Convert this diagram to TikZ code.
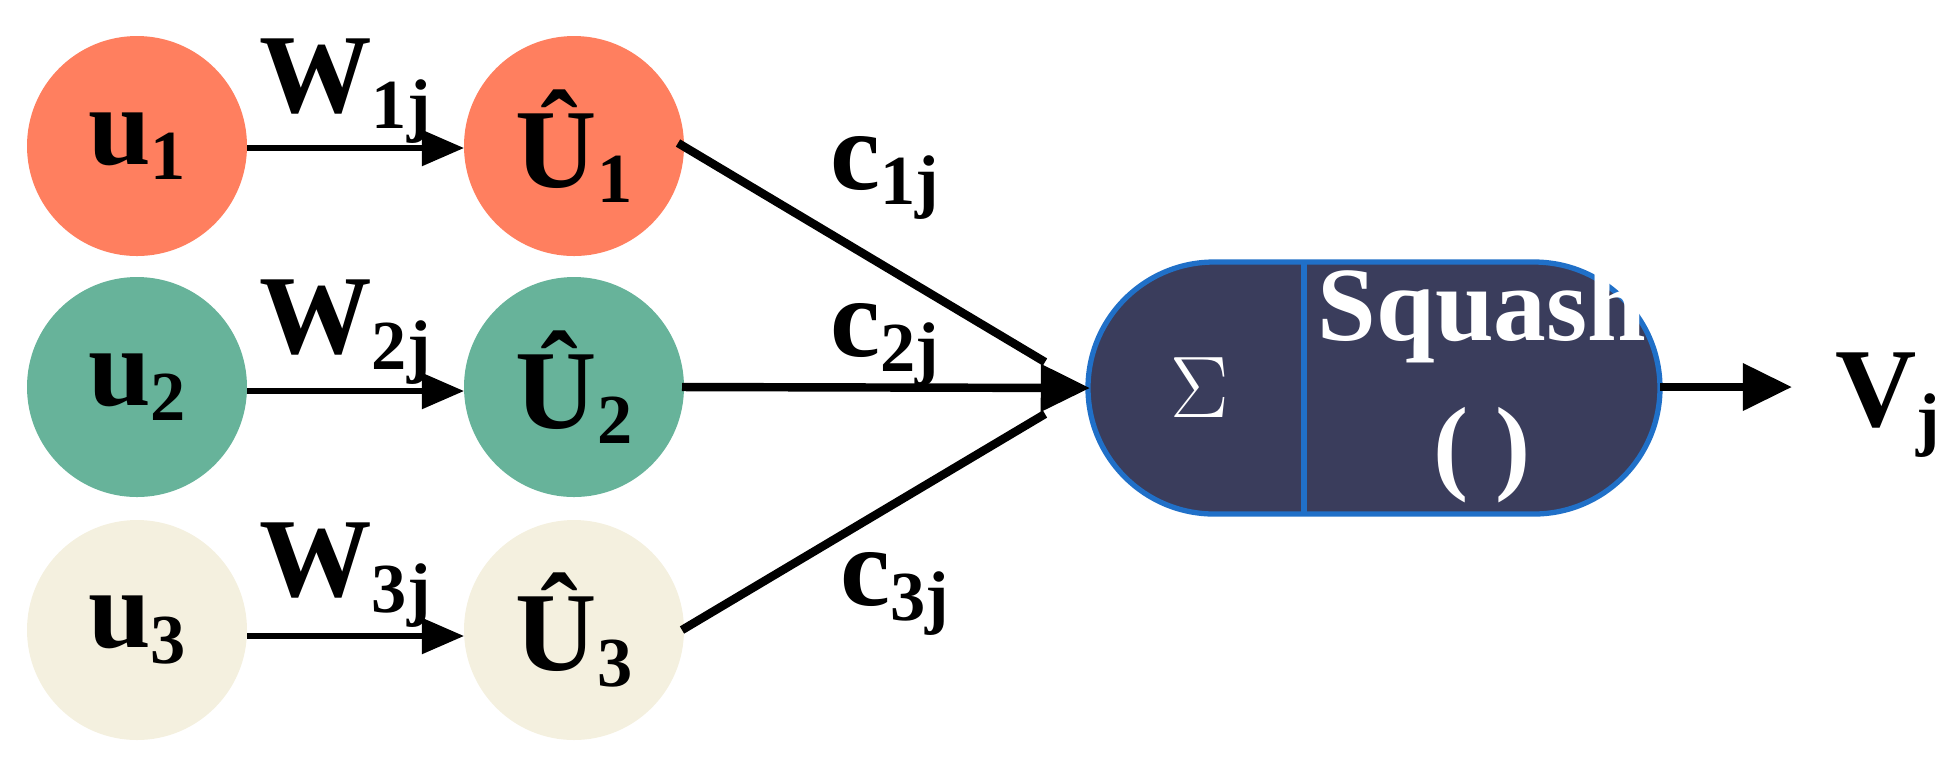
\documentclass[tikz,border=0pt]{standalone}
\usepackage{fontspec}
\setmainfont{Liberation Serif}[BoldFont={Liberation Serif Bold}]
\usetikzlibrary{arrows.meta}
\definecolor{cOrange}{HTML}{FF7F5F}
\definecolor{cGreen}{HTML}{67B39A}
\definecolor{cCream}{HTML}{F4F0DF}
\definecolor{cNavy}{HTML}{3A3D5C}
\definecolor{cBlue}{HTML}{2070C8}
\newcommand{\lbl}[2]{#1\raisebox{-0.3ex}{\fontsize{20}{20}\selectfont #2}}
\begin{document}
\begin{tikzpicture}[x=0.01cm,y=-0.01cm,
  lab/.style={font=\fontsize{32}{32}\selectfont\bfseries},
  wire/.style={line width=2.4pt,-{Triangle[length=14pt,width=13pt]}}]
\useasboundingbox (0,0) rectangle (1947,756);
\def\r{110}
\foreach \i/\y/\c in {1/146/cOrange,2/387/cGreen,3/630/cCream}{
  \fill[\c] (137,\y) circle (\r);
  \fill[\c] (574,\y) circle (\r);
  \node[lab] (u\i) at (137,\y) {\lbl{u}{\i}};
  \node[lab] (U\i) at (574,\y) {\lbl{\^{U}}{\i}};
  \coordinate (us\i) at (247,\y+\i*2);
  \coordinate (ue\i) at (464,\y+\i*2);
  \draw[line width=1.5pt,-{Triangle[length=12pt,width=10pt]}] (us\i) -- (ue\i);
  \node[lab] (W\i) at (345,\y-55) {\lbl{W}{\i j}};
}
% capsule
\draw[fill=cNavy,draw=cBlue,line width=1.5pt,rounded corners=1.26cm]
  (1088,262) rectangle (1660,514);
\draw[cBlue,line width=1.5pt] (1304,262) -- (1304,514);
\node[text=white,font=\fontsize{34}{34}\selectfont] (sum) at (1200,388) {$\Sigma$};
\node[text=white,font=\fontsize{30}{34}\selectfont\bfseries,align=center] (sq) at (1482,385) {Squash\\[6pt]( )};
\coordinate (in) at (1090,388);
\coordinate (inA) at (678,143);
\coordinate (inB) at (682,387);
\coordinate (inC) at (682,630);
\draw[line width=2.4pt] (inA) -- (1045,362);
\draw[line width=2.4pt] (inC) -- (1045,414);
\draw[wire] (inB) -- (in);
\draw[wire] (1660,387) -- (1792,387);
\node[lab] (c1) at (885,178) {\lbl{c}{1j}};
\node[lab] (c2) at (885,345) {\lbl{c}{2j}};
\node[lab] (c3) at (895,594) {\lbl{c}{3j}};
\node[lab] (V) at (1888,405) {\lbl{V}{j}};
\end{tikzpicture}
\end{document}
